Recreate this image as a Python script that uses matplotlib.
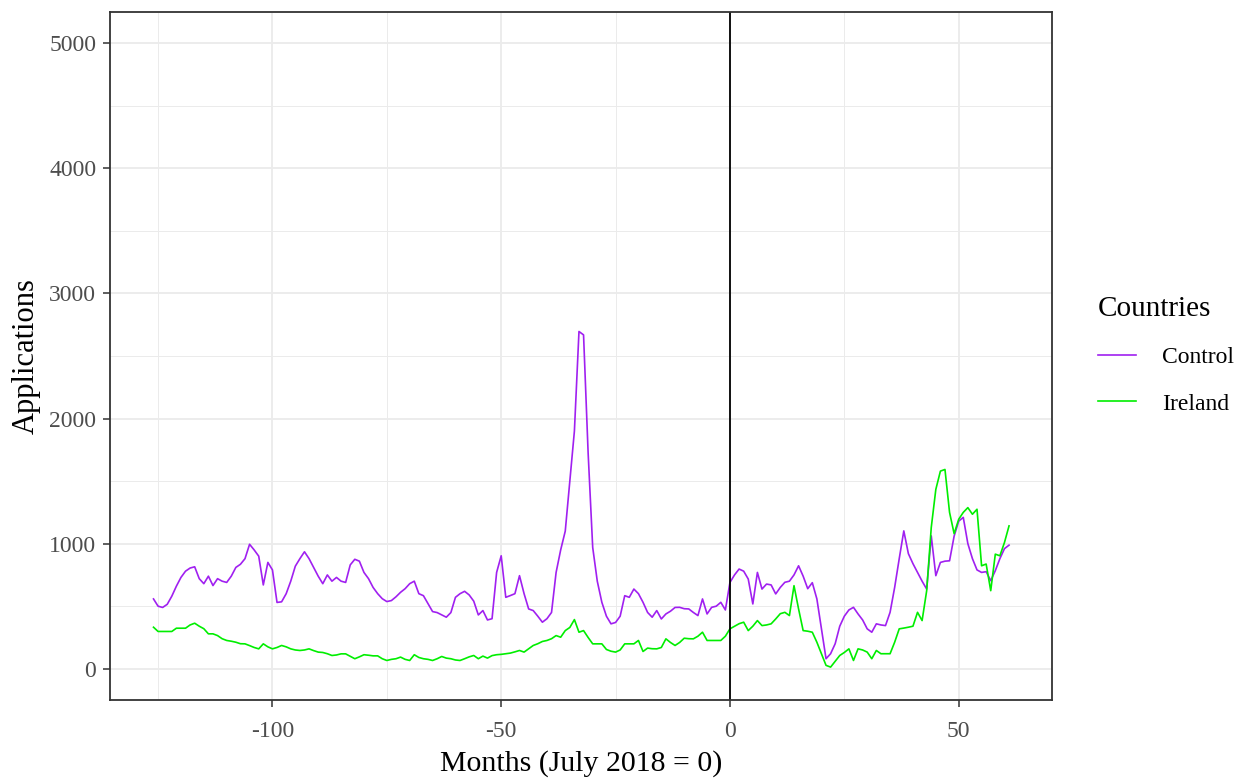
import numpy as np
import matplotlib
matplotlib.use("Agg")
import matplotlib.pyplot as plt
from matplotlib.ticker import MultipleLocator

plt.rcParams['font.family'] = ['Liberation Serif', 'DejaVu Serif']
plt.rcParams['axes.unicode_minus'] = False

# monthly applications, months relative to July 2018
months = list(range(-126, 62))

control = [
    558, 500, 490, 515, 580, 660, 730, 780, 805, 815,      # -126 .. -117
    720, 680, 740, 665, 720, 700, 690, 740, 810, 835,      # -116 .. -107
    880, 995, 950, 900, 670, 850, 790, 530, 535, 600,      # -106 .. -97
    700, 820, 880, 935, 880, 810, 740, 680, 750, 700,      # -96 .. -87
    730, 700, 690, 830, 875, 860, 770, 720, 650, 600,      # -86 .. -77
    560, 537, 545, 575, 611, 640, 680, 700, 600, 584,      # -76 .. -67
    520, 457, 449, 430, 412, 449, 571, 600, 619, 590,      # -66 .. -57
    540, 430, 465, 390, 400, 770, 903, 571, 585, 600,      # -56 .. -47
    744, 600, 478, 465, 420, 372, 400, 450, 770, 950,      # -46 .. -37
    1100, 1500, 1900, 2696, 2669, 1726, 970, 700, 531, 420,  # -36 .. -27
    359, 370, 420, 584, 571, 637, 600, 531, 450, 412,      # -26 .. -17
    465, 398, 438, 460, 490, 491, 480, 478, 450, 425,      # -16 .. -7
    558, 438, 491, 500, 531, 470, 690, 750, 797, 780,      # -6 .. 3
    717, 518, 770, 637, 677, 670, 598, 650, 691, 700,      # 4 .. 13
    750, 823, 740, 640, 688, 558, 319, 80, 120, 200,       # 14 .. 23
    340, 420, 470, 491, 438, 390, 319, 292, 359, 350,      # 24 .. 33
    345, 451, 650, 880, 1102, 920, 840, 770, 700, 637,     # 34 .. 43
    1062, 744, 850, 860, 863, 1060, 1180, 1210, 1000, 880, # 44 .. 53
    790, 770, 776, 704, 784, 880, 960, 988,                # 54 .. 61
]

ireland = [
    332, 298, 298, 298, 298, 324, 324, 324, 350, 364,      # -126 .. -117
    340, 320, 279, 279, 265, 240, 226, 220, 212, 200,      # -116 .. -107
    199, 185, 170, 159, 199, 175, 159, 170, 186, 175,      # -106 .. -97
    159, 150, 146, 150, 159, 145, 133, 130, 120, 106,      # -96 .. -87
    110, 119, 119, 100, 80, 95, 112, 108, 103, 103,        # -86 .. -77
    80, 66, 75, 80, 93, 75, 66, 112, 90, 80,               # -76 .. -67
    75, 66, 80, 98, 85, 80, 70, 66, 80, 95,                # -66 .. -57
    106, 80, 101, 85, 105, 112, 115, 120, 125, 135,        # -56 .. -47
    146, 133, 160, 186, 200, 218, 226, 240, 265, 252,      # -46 .. -37
    305, 330, 393, 292, 305, 250, 199, 199, 199, 154,      # -36 .. -27
    140, 133, 150, 199, 199, 199, 226, 138, 165, 160,      # -26 .. -17
    159, 170, 239, 210, 186, 210, 244, 240, 239, 260,      # -16 .. -7
    292, 226, 226, 226, 226, 260, 319, 340, 360, 372,      # -6 .. 3
    305, 340, 385, 345, 350, 359, 398, 440, 451, 425,      # 4 .. 13
    664, 478, 305, 300, 292, 212, 120, 27, 13, 60,         # 14 .. 23
    106, 130, 159, 66, 159, 150, 133, 80, 146, 120,        # 24 .. 33
    120, 120, 212, 319, 325, 332, 340, 451, 385, 624,      # 34 .. 43
    1129, 1434, 1580, 1593, 1250, 1080, 1195, 1250, 1288, 1235,  # 44 .. 53
    1275, 823, 837, 624, 916, 903, 1009, 1142,             # 54 .. 61
]

fig = plt.figure(figsize=(12.49, 7.81), dpi=100)
ax = fig.add_axes([0.0881, 0.1037, 0.7542, 0.8809])

ax.plot(months, control, color='#A020F0', lw=1.2, label='Control')
ax.plot(months, ireland, color='#00EE00', lw=1.2, label='Ireland')
ax.axvline(0, color='black', lw=1.3)

ax.set_xlim(-135.5, 70.4)
ax.set_ylim(-250, 5250)
ax.xaxis.set_major_locator(MultipleLocator(50))
ax.xaxis.set_minor_locator(MultipleLocator(25))
ax.yaxis.set_major_locator(MultipleLocator(1000))
ax.yaxis.set_minor_locator(MultipleLocator(500))

ax.grid(which='major', color='#EBEBEB', lw=1.3)
ax.grid(which='minor', color='#EBEBEB', lw=0.7)
ax.set_axisbelow(True)
ax.tick_params(which='minor', length=0)
ax.tick_params(which='major', length=5, width=1.1, color='#333333',
               labelsize=17, labelcolor='#4D4D4D')
ax.tick_params(axis='x', pad=10)
ax.tick_params(axis='y', pad=5)
for s in ax.spines.values():
    s.set_color('#333333')
    s.set_linewidth(1.3)

ax.set_xlabel('Months (July 2018 = 0)', fontsize=21.5, labelpad=6)
ax.set_ylabel('Applications', fontsize=22, labelpad=6)

leg = fig.legend(title='Countries', loc='center left',
                 bbox_to_anchor=(0.862, 0.545), frameon=False,
                 fontsize=17, title_fontsize=21, handlelength=1.6,
                 labelspacing=1.05, handletextpad=1.1)
leg._legend_box.align = 'left'

fig.savefig('out.png', dpi=100)
